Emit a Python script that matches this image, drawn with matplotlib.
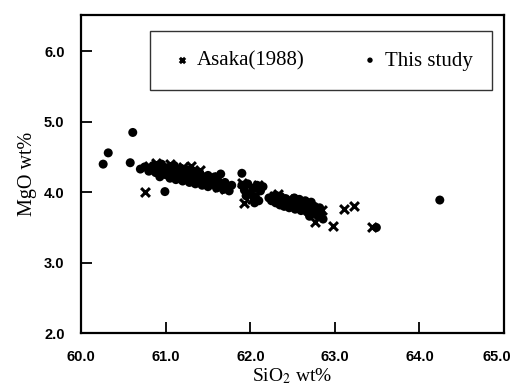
import matplotlib
matplotlib.use("Agg")
import matplotlib.pyplot as plt
import matplotlib.transforms as mtransforms

plt.rcParams['mathtext.fontset'] = 'stix'

# This study (dots)
study_x = [60.26, 60.32, 60.61, 60.58, 60.99, 61.90, 64.24, 63.49,
           60.70, 60.75, 60.80, 60.85, 60.88, 60.90, 60.93, 60.95, 60.98, 61.00,
           61.02, 61.05, 61.07, 61.10, 61.10, 61.12, 61.15, 61.17, 61.18, 61.20,
           61.22, 61.25, 61.25, 61.28, 61.30, 61.32, 61.33, 61.35, 61.38, 61.40,
           61.40, 61.43, 61.45, 61.47, 61.50, 61.50, 61.53, 61.55, 61.58, 61.60,
           61.62, 61.65, 61.68, 61.70, 61.72, 61.75, 61.65, 61.78,
           61.90, 61.93, 61.97, 62.00, 62.03, 62.06, 62.08, 62.10, 62.12, 62.05,
           61.95, 62.15,
           62.22, 62.25, 62.28, 62.30, 62.32, 62.35, 62.36, 62.38, 62.40, 62.42,
           62.44, 62.46, 62.48, 62.50, 62.52, 62.53, 62.55, 62.57, 62.58, 62.60,
           62.62, 62.64, 62.65, 62.67, 62.68, 62.70, 62.72, 62.74, 62.76, 62.78,
           62.80, 62.82, 62.84, 62.86, 62.70]
study_y = [4.40, 4.56, 4.85, 4.42, 4.01, 4.27, 3.89, 3.50,
           4.33, 4.36, 4.30, 4.38, 4.28, 4.34, 4.22, 4.40, 4.30, 4.25,
           4.35, 4.20, 4.30, 4.24, 4.38, 4.18, 4.28, 4.22, 4.34, 4.16,
           4.26, 4.20, 4.32, 4.14, 4.24, 4.18, 4.30, 4.12, 4.22, 4.16,
           4.28, 4.10, 4.20, 4.14, 4.24, 4.08, 4.18, 4.12, 4.22, 4.06,
           4.16, 4.10, 4.04, 4.14, 4.08, 4.02, 4.26, 4.10,
           4.10, 4.03, 4.12, 3.98, 4.06, 3.94, 4.10, 3.88, 4.02, 3.85,
           3.95, 4.08,
           3.92, 3.88, 3.95, 3.85, 3.90, 3.82, 3.94, 3.87, 3.80, 3.91,
           3.84, 3.78, 3.88, 3.82, 3.92, 3.76, 3.86, 3.80, 3.90, 3.74,
           3.84, 3.78, 3.88, 3.72, 3.82, 3.76, 3.86, 3.70, 3.80, 3.74,
           3.66, 3.78, 3.70, 3.62, 3.66]

# Asaka (1988) (crosses)
asaka_x = [60.75, 60.80, 60.88, 60.95, 61.05, 61.12, 61.20, 61.30, 61.32, 61.40,
           61.45, 61.55, 61.62, 61.70,
           61.90, 61.92, 62.09, 61.98, 62.02, 62.05,
           62.28, 62.33, 62.45, 62.62, 62.70, 62.76, 62.85, 62.98, 63.11, 63.22,
           63.44]
asaka_y = [4.01, 4.38, 4.42, 4.30, 4.40, 4.28, 4.36, 4.38, 4.26, 4.32,
           4.18, 4.22, 4.08, 4.05,
           4.13, 3.85, 4.10, 3.99, 3.90, 4.05,
           3.95, 3.98, 3.90, 3.86, 3.78, 3.58, 3.75, 3.52, 3.76, 3.81,
           3.51]

xticks = [60.0, 61.0, 62.0, 63.0, 64.0, 65.0]
yticks = [2.0, 3.0, 4.0, 5.0, 6.0]

fig = plt.figure(figsize=(5.17, 3.91), dpi=100)
ax = fig.add_axes([0.157, 0.148, 0.818, 0.814])

ax.scatter(asaka_x, asaka_y, marker='x', s=40, c='black', linewidths=2.2,
           label='Asaka(1988)', zorder=3)
ax.scatter(study_x, study_y, marker='o', s=42, c='black', edgecolors='none',
           label='This study', zorder=3)

ax.set_xlim(60.0, 65.0)
ax.set_ylim(2.0, 6.52)
ax.set_xticks(xticks)
ax.set_yticks(yticks)
ax.set_xticklabels(['%.1f' % v for v in xticks])
ax.set_yticklabels(['%.1f' % v for v in yticks])
ax.tick_params(direction='in', length=8, width=1.3, pad=12, labelsize=10.5)
for lab in ax.get_xticklabels() + ax.get_yticklabels():
    lab.set_fontfamily('Liberation Sans')
    lab.set_fontweight('bold')
for sp in ax.spines.values():
    sp.set_linewidth(1.6)

# nudge the last x label so it stays inside the figure
last = ax.get_xticklabels()[-1]
last.set_transform(last.get_transform() +
                   mtransforms.ScaledTranslation(-5 / 72, 0, fig.dpi_scale_trans))

ax.set_xlabel(r'SiO$_2$ wt%', family='Liberation Serif', fontsize=14, labelpad=2)
ax.set_ylabel('MgO wt%', family='Liberation Serif', fontsize=14.5, labelpad=5)

leg = ax.legend(loc='center', bbox_to_anchor=(0.163, 0.752, 0.809, 0.207),
                mode='expand', ncol=2,
                frameon=True, fancybox=False, edgecolor='black',
                prop={'family': 'Liberation Serif', 'size': 15},
                handletextpad=0.1, columnspacing=1.5, borderpad=0.95,
                borderaxespad=0, handlelength=1.2, markerscale=0.6)
leg.get_frame().set_linewidth(1.0)

fig.savefig('out.png', dpi=100)
